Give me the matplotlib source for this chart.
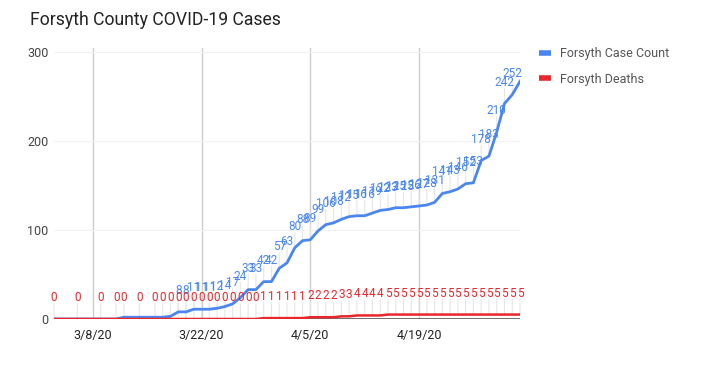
import pandas as pd
import matplotlib
matplotlib.use("Agg")
import matplotlib.pyplot as plt
from matplotlib.lines import Line2D

plt.rcParams['font.family'] = ['Roboto', 'DejaVu Sans']

# ------------------------------
# Data
# ------------------------------
dates = ['2020-03-03', '2020-03-06', '2020-03-09', '2020-03-11', '2020-03-12',
         '2020-03-14', '2020-03-16', '2020-03-17', '2020-03-18', '2020-03-19',
         '2020-03-20', '2020-03-21', '2020-03-22', '2020-03-23', '2020-03-24',
         '2020-03-25', '2020-03-26', '2020-03-27', '2020-03-28', '2020-03-29',
         '2020-03-30', '2020-03-31', '2020-04-01', '2020-04-02', '2020-04-03',
         '2020-04-04', '2020-04-05', '2020-04-06', '2020-04-07', '2020-04-08',
         '2020-04-09', '2020-04-10', '2020-04-11', '2020-04-12', '2020-04-13',
         '2020-04-14', '2020-04-15', '2020-04-16', '2020-04-17', '2020-04-18',
         '2020-04-19', '2020-04-20', '2020-04-21', '2020-04-22', '2020-04-23',
         '2020-04-24', '2020-04-25', '2020-04-26', '2020-04-27', '2020-04-28',
         '2020-04-29', '2020-04-30', '2020-05-01', '2020-05-02']

cases = [0, 0, 0, 0, 2, 2, 2, 2, 3, 8,
         8, 11, 11, 11, 12, 14, 17, 24, 33, 33,
         42, 42, 57, 63, 80, 88, 89, 99, 106, 108,
         112, 115, 116, 116, 119, 122, 123, 125, 125, 126,
         127, 128, 131, 141, 143, 146, 152, 153, 178, 183,
         210, 242, 252, 267]

deaths = [0, 0, 0, 0, 0, 0, 0, 0, 0, 0,
          0, 0, 0, 0, 0, 0, 0, 0, 0, 0,
          1, 1, 1, 1, 1, 1, 2, 2, 2, 2,
          3, 3, 4, 4, 4, 4, 5, 5, 5, 5,
          5, 5, 5, 5, 5, 5, 5, 5, 5, 5,
          5, 5, 5, 5]

tick_dates = ['2020-03-08', '2020-03-22', '2020-04-05', '2020-04-19']
tick_labels = ['3/8/20', '3/22/20', '4/5/20', '4/19/20']

x = pd.to_datetime(dates)
blue = '#4a86f0'
red = '#e8262b'

# ------------------------------
# Figure
# ------------------------------
fig = plt.figure(figsize=(7.04, 3.66), dpi=100)
ax = fig.add_axes([54 / 704, 1 - 319 / 366, (520 - 54) / 704, (319 - 47.5) / 366])

ax.plot(x, cases, color=blue, lw=2.0, zorder=3, solid_joinstyle='round')
ax.plot(x, deaths, color=red, lw=1.8, zorder=4, solid_joinstyle='round')

# data labels with faint stems, like the sheet export
stem = dict(arrowstyle='-', color='#e6e6e6', lw=0.8, shrinkA=0, shrinkB=0)
for xi, c, d in zip(x, cases, deaths):
    if c >= 5 and xi != x[-1]:
        ax.annotate('', xy=(xi, c), xytext=(0, 11), textcoords='offset points',
                    arrowprops=stem, zorder=1)
        ax.annotate(str(c), xy=(xi, c), xytext=(0, 15.5), textcoords='offset points',
                    ha='center', va='center', fontsize=8.5, color=blue, zorder=5)
    ax.annotate('', xy=(xi, d), xytext=(0, 11), textcoords='offset points',
                arrowprops=stem, zorder=1)
    ax.annotate(str(d), xy=(xi, d), xytext=(0, 15.5), textcoords='offset points',
                ha='center', va='center', fontsize=8.5, color=red, zorder=5)

ax.set_xlim(x[0], x[-1])
ax.set_ylim(0, 305)

# grid
for td in pd.to_datetime(tick_dates):
    ax.axvline(td, color='#cccccc', lw=1.0, zorder=0)
for yv in [100, 200, 300]:
    ax.axhline(yv, color='#f2f2f2', lw=0.8, zorder=0)
ax.axhline(0, color='#555555', lw=1.2, zorder=2)

ax.set_xticks(pd.to_datetime(tick_dates))
ax.set_xticklabels(tick_labels)
ax.set_yticks([0, 100, 200, 300])
ax.tick_params(axis='x', length=0, pad=7, labelsize=9, labelcolor='#222222')
ax.tick_params(axis='y', length=0, pad=4, labelsize=9, labelcolor='#444444')
for s in ax.spines.values():
    s.set_visible(False)

fig.text(30 / 704, 1 - 20 / 366, 'Forsyth County COVID-19 Cases',
         fontsize=12.7, color='#222222', va='center', ha='left')

# legend
handles = [Line2D([], [], color=blue, lw=4, solid_capstyle='butt'),
           Line2D([], [], color=red, lw=4, solid_capstyle='butt')]
fig.legend(handles, ['Forsyth Case Count', 'Forsyth Deaths'],
           loc='upper left', bbox_to_anchor=(528 / 704, 1 - 36 / 366),
           frameon=False, fontsize=9, labelcolor='#555555',
           handlelength=0.9, handletextpad=0.8, labelspacing=1.0)

fig.savefig('out.png', dpi=100)
